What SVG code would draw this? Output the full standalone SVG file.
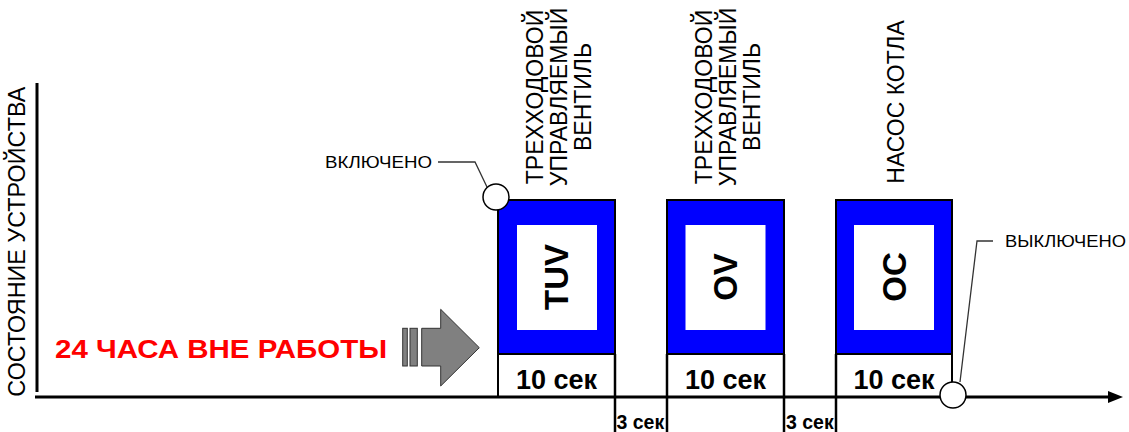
<svg xmlns="http://www.w3.org/2000/svg" width="1129" height="432" viewBox="0 0 1129 432">
<style>
.blue{fill:#0000ff;stroke:#000;stroke-width:2}
.inner{fill:#fff;stroke:none}
.foot{fill:#fff;stroke:#000;stroke-width:2}
.code{font-family:"Liberation Sans",Arial,sans-serif;font-weight:bold;font-size:33px;fill:#000;text-anchor:middle}
.sec{font-family:"Liberation Sans",Arial,sans-serif;font-weight:bold;font-size:27px;fill:#000;text-anchor:middle}
.sec3{font-family:"Liberation Sans",Arial,sans-serif;font-weight:bold;font-size:19.5px;fill:#000}
.lbl{font-family:"Liberation Sans",Arial,sans-serif;font-size:23px;fill:#000;text-anchor:middle}
.note{font-family:"Liberation Sans",Arial,sans-serif;font-size:17px;fill:#000}
.axis{stroke:#000;stroke-width:3;fill:none}
.tick{stroke:#000;stroke-width:2.5;fill:none}
.lead{stroke:#333;stroke-width:1.3;fill:none}
.dot{fill:#fff;stroke:#000;stroke-width:1.5}
</style>

<g id="axis-label">
<text class="lbl" font-size="22" transform="translate(25,241.7) rotate(-90)" textLength="310" lengthAdjust="spacingAndGlyphs">СОСТОЯНИЕ УСТРОЙСТВА</text>
</g>

<g id="idle-label">
<text x="55" y="358" font-family="'Liberation Sans',Arial,sans-serif" font-weight="bold" font-size="26" fill="#ff0000" textLength="332" lengthAdjust="spacingAndGlyphs">24 ЧАСА ВНЕ РАБОТЫ</text>
</g>

<g id="idle-arrow" fill="#808080" stroke="#333" stroke-width="1">
<rect x="402.7" y="328.3" width="4.6" height="37.7"/>
<rect x="410" y="328.3" width="7.3" height="37.7"/>
<polygon points="421.7,328.3 440.7,328.3 440.7,309.3 479.3,347.7 440.7,386 440.7,366 421.7,366"/>
</g>

<g id="box-tuv">
<rect class="blue" x="498" y="200" width="117" height="154"/>
<rect class="inner" x="517" y="225" width="80" height="105"/>
<rect class="foot" x="498" y="354" width="117" height="43"/>
<text class="code" transform="translate(568,277) rotate(-90)">TUV</text>
<text class="sec" x="556.5" y="389">10 сек</text>
<g transform="translate(0,97) rotate(-90)">
<text class="lbl" x="0" y="543">ТРЕХХОДОВОЙ</text>
<text class="lbl" x="0" y="567">УПРАВЛЯЕМЫЙ</text>
<text class="lbl" x="0" y="591">ВЕНТИЛЬ</text>
</g>
</g>

<g id="box-ov">
<rect class="blue" x="667" y="200" width="117" height="154"/>
<rect class="inner" x="685.5" y="225" width="80" height="105"/>
<rect class="foot" x="667" y="354" width="117" height="43"/>
<text class="code" transform="translate(737,277) rotate(-90)">OV</text>
<text class="sec" x="725.5" y="389">10 сек</text>
<g transform="translate(0,97) rotate(-90)">
<text class="lbl" x="0" y="712">ТРЕХХОДОВОЙ</text>
<text class="lbl" x="0" y="736">УПРАВЛЯЕМЫЙ</text>
<text class="lbl" x="0" y="760">ВЕНТИЛЬ</text>
</g>
</g>

<g id="box-oc">
<rect class="blue" x="836" y="200" width="116" height="154"/>
<rect class="inner" x="854" y="225" width="80" height="105"/>
<rect class="foot" x="836" y="354" width="116" height="43"/>
<text class="code" transform="translate(906,277) rotate(-90)">OC</text>
<text class="sec" x="894" y="389">10 сек</text>
<text class="lbl" font-size="22" transform="translate(904,102) rotate(-90)">НАСОС КОТЛА</text>
</g>

<g id="pause-labels">
<text class="sec3" x="616.5" y="429">3 сек</text>
<text class="sec3" x="786" y="429">3 сек</text>
</g>

<g id="connectors">
<line class="axis" x1="37" y1="83" x2="37" y2="392"/>
<line class="axis" x1="35" y1="397" x2="1110" y2="397"/>
<polygon points="1108,391 1123,397 1108,403" fill="#000"/>
<line class="tick" x1="615" y1="354" x2="615" y2="432"/>
<line class="tick" x1="667" y1="354" x2="667" y2="432"/>
<line class="tick" x1="784" y1="354" x2="784" y2="432"/>
<line class="tick" x1="836" y1="354" x2="836" y2="432"/>
<polyline class="lead" points="438,162 475,162 487,187"/>
<polyline class="lead" points="993,241 977,241 960,382"/>
</g>

<g id="state-on">
<circle class="dot" cx="496" cy="197" r="13"/>
<text class="note" x="325" y="168" textLength="107" lengthAdjust="spacingAndGlyphs">ВКЛЮЧЕНО</text>
</g>

<g id="state-off">
<circle class="dot" cx="953" cy="395" r="13"/>
<text class="note" x="1005" y="247" textLength="121" lengthAdjust="spacingAndGlyphs">ВЫКЛЮЧЕНО</text>
</g>
</svg>
